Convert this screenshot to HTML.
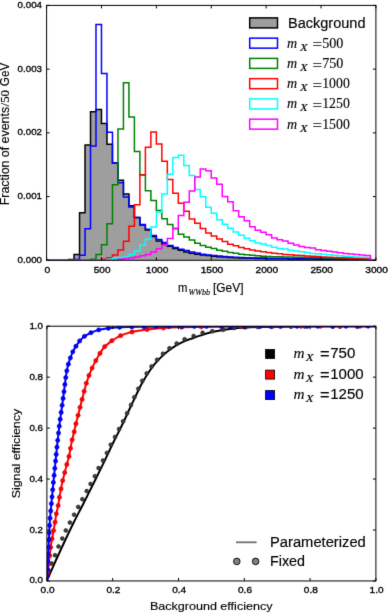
<!DOCTYPE html><html><head><meta charset="utf-8"><style>html,body{margin:0;padding:0;background:#fff;}svg{display:block;}</style></head><body>
<div style="width:388px;height:613px;will-change:transform;"><svg width="388" height="613" viewBox="0 0 388 613" font-family="Liberation Sans, sans-serif">
<style>text{stroke:#000;stroke-width:0.15px;paint-order:stroke;} text.sr{stroke-width:0.12px;} text.tk{stroke-width:0.35px;}</style>
<filter id="soft" x="0" y="0" width="388" height="613" filterUnits="userSpaceOnUse" color-interpolation-filters="sRGB"><feConvolveMatrix order="3" kernelMatrix="0.0081 0.0738 0.0081 0.0738 0.6724 0.0738 0.0081 0.0738 0.0081" edgeMode="duplicate"/></filter>
<g filter="url(#soft)">
<rect width="388" height="613" fill="#fff"/>
<clipPath id="tc"><rect x="46.6" y="5.4" width="329.3" height="254.9"/></clipPath>
<g clip-path="url(#tc)">
<path d="M46.6 260.5 L46.6 260.5 L52.09 260.5 L52.09 260.5 L57.58 260.5 L57.58 260.5 L63.06 260.5 L63.06 260.5 L68.55 260.5 L68.55 259.5 L74.04 259.5 L74.04 254.5 L79.53 254.5 L79.53 212.7 L85.02 212.7 L85.02 145 L90.51 145 L90.51 111.7 L95.99 111.7 L95.99 109.5 L101.48 109.5 L101.48 123.5 L106.97 123.5 L106.97 144.2 L112.46 144.2 L112.46 163 L117.95 163 L117.95 180.2 L123.44 180.2 L123.44 194 L128.92 194 L128.92 205.8 L134.41 205.8 L134.41 217.5 L139.9 217.5 L139.9 225 L145.39 225 L145.39 230 L150.88 230 L150.88 236.5 L156.37 236.5 L156.37 241 L161.85 241 L161.85 244 L167.34 244 L167.34 246.2 L172.83 246.2 L172.83 248.5 L178.32 248.5 L178.32 250.3 L183.81 250.3 L183.81 252 L189.3 252 L189.3 253.2 L194.78 253.2 L194.78 254.2 L200.27 254.2 L200.27 255 L205.76 255 L205.76 255.6 L211.25 255.6 L211.25 256.2 L216.74 256.2 L216.74 256.7 L222.23 256.7 L222.23 257.1 L227.71 257.1 L227.71 257.4 L233.2 257.4 L233.2 257.7 L238.69 257.7 L238.69 257.9 L244.18 257.9 L244.18 258.1 L249.67 258.1 L249.67 258.3 L255.16 258.3 L255.16 258.5 L260.64 258.5 L260.64 258.6 L266.13 258.6 L266.13 258.7 L271.62 258.7 L271.62 258.75 L277.11 258.75 L277.11 258.8 L282.6 258.8 L282.6 258.85 L288.09 258.85 L288.09 258.9 L293.57 258.9 L293.57 258.95 L299.06 258.95 L299.06 259 L304.55 259 L304.55 259.05 L310.04 259.05 L310.04 259.1 L315.53 259.1 L315.53 259.15 L321.02 259.15 L321.02 259.2 L326.5 259.2 L326.5 259.25 L331.99 259.25 L331.99 259.3 L337.48 259.3 L337.48 259.35 L342.97 259.35 L342.97 259.4 L348.46 259.4 L348.46 259.45 L353.95 259.45 L353.95 259.5 L359.43 259.5 L359.43 259.55 L364.92 259.55 L364.92 259.6 L370.41 259.6 L370.41 260.5 L375.9 260.5 L375.9 260.5 Z" fill="#9e9e9e" stroke="none"/>
<path d="M46.6 260.5 L46.6 260.5 L52.09 260.5 L52.09 260.5 L57.58 260.5 L57.58 260.5 L63.06 260.5 L63.06 260.5 L68.55 260.5 L68.55 259.5 L74.04 259.5 L74.04 254.5 L79.53 254.5 L79.53 212.7 L85.02 212.7 L85.02 145 L90.51 145 L90.51 111.7 L95.99 111.7 L95.99 109.5 L101.48 109.5 L101.48 123.5 L106.97 123.5 L106.97 144.2 L112.46 144.2 L112.46 163 L117.95 163 L117.95 180.2 L123.44 180.2 L123.44 194 L128.92 194 L128.92 205.8 L134.41 205.8 L134.41 217.5 L139.9 217.5 L139.9 225 L145.39 225 L145.39 230 L150.88 230 L150.88 236.5 L156.37 236.5 L156.37 241 L161.85 241 L161.85 244 L167.34 244 L167.34 246.2 L172.83 246.2 L172.83 248.5 L178.32 248.5 L178.32 250.3 L183.81 250.3 L183.81 252 L189.3 252 L189.3 253.2 L194.78 253.2 L194.78 254.2 L200.27 254.2 L200.27 255 L205.76 255 L205.76 255.6 L211.25 255.6 L211.25 256.2 L216.74 256.2 L216.74 256.7 L222.23 256.7 L222.23 257.1 L227.71 257.1 L227.71 257.4 L233.2 257.4 L233.2 257.7 L238.69 257.7 L238.69 257.9 L244.18 257.9 L244.18 258.1 L249.67 258.1 L249.67 258.3 L255.16 258.3 L255.16 258.5 L260.64 258.5 L260.64 258.6 L266.13 258.6 L266.13 258.7 L271.62 258.7 L271.62 258.75 L277.11 258.75 L277.11 258.8 L282.6 258.8 L282.6 258.85 L288.09 258.85 L288.09 258.9 L293.57 258.9 L293.57 258.95 L299.06 258.95 L299.06 259 L304.55 259 L304.55 259.05 L310.04 259.05 L310.04 259.1 L315.53 259.1 L315.53 259.15 L321.02 259.15 L321.02 259.2 L326.5 259.2 L326.5 259.25 L331.99 259.25 L331.99 259.3 L337.48 259.3 L337.48 259.35 L342.97 259.35 L342.97 259.4 L348.46 259.4 L348.46 259.45 L353.95 259.45 L353.95 259.5 L359.43 259.5 L359.43 259.55 L364.92 259.55 L364.92 259.6 L370.41 259.6 L370.41 260.5 L375.9 260.5 L375.9 260.5" fill="none" stroke="#000" stroke-width="1.5" stroke-linejoin="miter"/>
<path d="M46.6 260.5 L46.6 260.5 L52.09 260.5 L52.09 260.5 L57.58 260.5 L57.58 260.5 L63.06 260.5 L63.06 260.5 L68.55 260.5 L68.55 260.5 L74.04 260.5 L74.04 259.5 L79.53 259.5 L79.53 255.2 L85.02 255.2 L85.02 228.8 L90.51 228.8 L90.51 146 L95.99 146 L95.99 24.4 L101.48 24.4 L101.48 73.4 L106.97 73.4 L106.97 132.2 L112.46 132.2 L112.46 163 L117.95 163 L117.95 182.8 L123.44 182.8 L123.44 197 L128.92 197 L128.92 207 L134.41 207 L134.41 217.6 L139.9 217.6 L139.9 224.6 L145.39 224.6 L145.39 229.3 L150.88 229.3 L150.88 235.5 L156.37 235.5 L156.37 239.5 L161.85 239.5 L161.85 242.5 L167.34 242.5 L167.34 245.5 L172.83 245.5 L172.83 247.5 L178.32 247.5 L178.32 249.3 L183.81 249.3 L183.81 250.5 L189.3 250.5 L189.3 252 L194.78 252 L194.78 253.1 L200.27 253.1 L200.27 254.2 L205.76 254.2 L205.76 255 L211.25 255 L211.25 255.6 L216.74 255.6 L216.74 256.1 L222.23 256.1 L222.23 256.6 L227.71 256.6 L227.71 257 L233.2 257 L233.2 257.3 L238.69 257.3 L238.69 257.6 L244.18 257.6 L244.18 257.8 L249.67 257.8 L249.67 258 L255.16 258 L255.16 258.06 L260.64 258.06 L260.64 258.12 L266.13 258.12 L266.13 258.19 L271.62 258.19 L271.62 258.25 L277.11 258.25 L277.11 258.31 L282.6 258.31 L282.6 258.37 L288.09 258.37 L288.09 258.43 L293.57 258.43 L293.57 258.5 L299.06 258.5 L299.06 258.56 L304.55 258.56 L304.55 258.62 L310.04 258.62 L310.04 258.68 L315.53 258.68 L315.53 258.74 L321.02 258.74 L321.02 258.8 L326.5 258.8 L326.5 258.87 L331.99 258.87 L331.99 258.93 L337.48 258.93 L337.48 258.99 L342.97 258.99 L342.97 259.05 L348.46 259.05 L348.46 259.11 L353.95 259.11 L353.95 259.18 L359.43 259.18 L359.43 259.24 L364.92 259.24 L364.92 259.3 L370.41 259.3 L370.41 260.5 L375.9 260.5 L375.9 260.5" fill="none" stroke="#0000ff" stroke-width="1.5" stroke-linejoin="miter"/>
<path d="M46.6 260.5 L46.6 260.5 L52.09 260.5 L52.09 260.5 L57.58 260.5 L57.58 260.5 L63.06 260.5 L63.06 260.5 L68.55 260.5 L68.55 260.5 L74.04 260.5 L74.04 260.5 L79.53 260.5 L79.53 260.5 L85.02 260.5 L85.02 260.5 L90.51 260.5 L90.51 259.3 L95.99 259.3 L95.99 254.6 L101.48 254.6 L101.48 244.8 L106.97 244.8 L106.97 223.7 L112.46 223.7 L112.46 184.7 L117.95 184.7 L117.95 128.9 L123.44 128.9 L123.44 82.8 L128.92 82.8 L128.92 117 L134.41 117 L134.41 151.4 L139.9 151.4 L139.9 174.8 L145.39 174.8 L145.39 190.8 L150.88 190.8 L150.88 200.4 L156.37 200.4 L156.37 210.5 L161.85 210.5 L161.85 218.7 L167.34 218.7 L167.34 224.5 L172.83 224.5 L172.83 228.8 L178.32 228.8 L178.32 234.2 L183.81 234.2 L183.81 237 L189.3 237 L189.3 239.9 L194.78 239.9 L194.78 243.3 L200.27 243.3 L200.27 245.4 L205.76 245.4 L205.76 247.2 L211.25 247.2 L211.25 248.5 L216.74 248.5 L216.74 250.3 L222.23 250.3 L222.23 251.3 L227.71 251.3 L227.71 252.5 L233.2 252.5 L233.2 253.3 L238.69 253.3 L238.69 254.2 L244.18 254.2 L244.18 254.7 L249.67 254.7 L249.67 255.3 L255.16 255.3 L255.16 255.8 L260.64 255.8 L260.64 256.3 L266.13 256.3 L266.13 256.6 L271.62 256.6 L271.62 256.72 L277.11 256.72 L277.11 256.84 L282.6 256.84 L282.6 256.97 L288.09 256.97 L288.09 257.09 L293.57 257.09 L293.57 257.21 L299.06 257.21 L299.06 257.33 L304.55 257.33 L304.55 257.46 L310.04 257.46 L310.04 257.58 L315.53 257.58 L315.53 257.7 L321.02 257.7 L321.02 257.82 L326.5 257.82 L326.5 257.94 L331.99 257.94 L331.99 258.07 L337.48 258.07 L337.48 258.19 L342.97 258.19 L342.97 258.31 L348.46 258.31 L348.46 258.43 L353.95 258.43 L353.95 258.56 L359.43 258.56 L359.43 258.68 L364.92 258.68 L364.92 258.8 L370.41 258.8 L370.41 260.5 L375.9 260.5 L375.9 260.5" fill="none" stroke="#008000" stroke-width="1.5" stroke-linejoin="miter"/>
<path d="M46.6 260.5 L46.6 260.5 L52.09 260.5 L52.09 260.5 L57.58 260.5 L57.58 260.5 L63.06 260.5 L63.06 260.5 L68.55 260.5 L68.55 260.5 L74.04 260.5 L74.04 260.5 L79.53 260.5 L79.53 260.5 L85.02 260.5 L85.02 260.5 L90.51 260.5 L90.51 260.5 L95.99 260.5 L95.99 260.5 L101.48 260.5 L101.48 259.3 L106.97 259.3 L106.97 257.7 L112.46 257.7 L112.46 255 L117.95 255 L117.95 250 L123.44 250 L123.44 241.2 L128.92 241.2 L128.92 226.3 L134.41 226.3 L134.41 204.7 L139.9 204.7 L139.9 175 L145.39 175 L145.39 147.2 L150.88 147.2 L150.88 132.1 L156.37 132.1 L156.37 143.9 L161.85 143.9 L161.85 161.3 L167.34 161.3 L167.34 179.5 L172.83 179.5 L172.83 193.2 L178.32 193.2 L178.32 203.2 L183.81 203.2 L183.81 211.3 L189.3 211.3 L189.3 219.1 L194.78 219.1 L194.78 223.2 L200.27 223.2 L200.27 228.4 L205.76 228.4 L205.76 233 L211.25 233 L211.25 236 L216.74 236 L216.74 239.1 L222.23 239.1 L222.23 241.5 L227.71 241.5 L227.71 244.2 L233.2 244.2 L233.2 245.8 L238.69 245.8 L238.69 247.5 L244.18 247.5 L244.18 248.8 L249.67 248.8 L249.67 250 L255.16 250 L255.16 251.1 L260.64 251.1 L260.64 251.8 L266.13 251.8 L266.13 252.4 L271.62 252.4 L271.62 253.2 L277.11 253.2 L277.11 253.8 L282.6 253.8 L282.6 254.4 L288.09 254.4 L288.09 254.8 L293.57 254.8 L293.57 255.2 L299.06 255.2 L299.06 255.6 L304.55 255.6 L304.55 256 L310.04 256 L310.04 256.3 L315.53 256.3 L315.53 256.6 L321.02 256.6 L321.02 256.9 L326.5 256.9 L326.5 257.2 L331.99 257.2 L331.99 257.5 L337.48 257.5 L337.48 257.7 L342.97 257.7 L342.97 257.9 L348.46 257.9 L348.46 258.1 L353.95 258.1 L353.95 258.3 L359.43 258.3 L359.43 258.5 L364.92 258.5 L364.92 258.6 L370.41 258.6 L370.41 260.5 L375.9 260.5 L375.9 260.5" fill="none" stroke="#ff0000" stroke-width="1.5" stroke-linejoin="miter"/>
<path d="M46.6 260.5 L46.6 260.5 L52.09 260.5 L52.09 260.5 L57.58 260.5 L57.58 260.5 L63.06 260.5 L63.06 260.5 L68.55 260.5 L68.55 260.5 L74.04 260.5 L74.04 260.5 L79.53 260.5 L79.53 260.5 L85.02 260.5 L85.02 260.5 L90.51 260.5 L90.51 260.5 L95.99 260.5 L95.99 260.5 L101.48 260.5 L101.48 260.5 L106.97 260.5 L106.97 259.3 L112.46 259.3 L112.46 258 L117.95 258 L117.95 257.5 L123.44 257.5 L123.44 257 L128.92 257 L128.92 254.6 L134.41 254.6 L134.41 251 L139.9 251 L139.9 245.2 L145.39 245.2 L145.39 239.3 L150.88 239.3 L150.88 227 L156.37 227 L156.37 212.2 L161.85 212.2 L161.85 194 L167.34 194 L167.34 174.2 L172.83 174.2 L172.83 157.5 L178.32 157.5 L178.32 155.3 L183.81 155.3 L183.81 165.5 L189.3 165.5 L189.3 175.5 L194.78 175.5 L194.78 189.6 L200.27 189.6 L200.27 196.8 L205.76 196.8 L205.76 207.2 L211.25 207.2 L211.25 213.2 L216.74 213.2 L216.74 219.8 L222.23 219.8 L222.23 224.2 L227.71 224.2 L227.71 228.3 L233.2 228.3 L233.2 232 L238.69 232 L238.69 235.3 L244.18 235.3 L244.18 238.3 L249.67 238.3 L249.67 240.8 L255.16 240.8 L255.16 243 L260.64 243 L260.64 244 L266.13 244 L266.13 245.6 L271.62 245.6 L271.62 247.2 L277.11 247.2 L277.11 248.4 L282.6 248.4 L282.6 249 L288.09 249 L288.09 250.3 L293.57 250.3 L293.57 251 L299.06 251 L299.06 251.8 L304.55 251.8 L304.55 252.6 L310.04 252.6 L310.04 253.4 L315.53 253.4 L315.53 253.7 L321.02 253.7 L321.02 254.3 L326.5 254.3 L326.5 254.8 L331.99 254.8 L331.99 255.3 L337.48 255.3 L337.48 255.8 L342.97 255.8 L342.97 256.2 L348.46 256.2 L348.46 256.6 L353.95 256.6 L353.95 257 L359.43 257 L359.43 257.3 L364.92 257.3 L364.92 257.6 L370.41 257.6 L370.41 260.5 L375.9 260.5 L375.9 260.5" fill="none" stroke="#00ffff" stroke-width="1.5" stroke-linejoin="miter"/>
<path d="M46.6 260.5 L46.6 260.5 L52.09 260.5 L52.09 260.5 L57.58 260.5 L57.58 260.5 L63.06 260.5 L63.06 260.5 L68.55 260.5 L68.55 260.5 L74.04 260.5 L74.04 260.5 L79.53 260.5 L79.53 260.5 L85.02 260.5 L85.02 260.5 L90.51 260.5 L90.51 260.5 L95.99 260.5 L95.99 260.5 L101.48 260.5 L101.48 260.5 L106.97 260.5 L106.97 260.5 L112.46 260.5 L112.46 260.5 L117.95 260.5 L117.95 259.3 L123.44 259.3 L123.44 258.5 L128.92 258.5 L128.92 258 L134.41 258 L134.41 257 L139.9 257 L139.9 255.7 L145.39 255.7 L145.39 254.5 L150.88 254.5 L150.88 252 L156.37 252 L156.37 248.7 L161.85 248.7 L161.85 245 L167.34 245 L167.34 238.5 L172.83 238.5 L172.83 228.3 L178.32 228.3 L178.32 215.5 L183.81 215.5 L183.81 202.2 L189.3 202.2 L189.3 190.9 L194.78 190.9 L194.78 176.9 L200.27 176.9 L200.27 169 L205.76 169 L205.76 170.7 L211.25 170.7 L211.25 178 L216.74 178 L216.74 184.3 L222.23 184.3 L222.23 196.5 L227.71 196.5 L227.71 201.7 L233.2 201.7 L233.2 210.8 L238.69 210.8 L238.69 216.7 L244.18 216.7 L244.18 220.8 L249.67 220.8 L249.67 226.7 L255.16 226.7 L255.16 230.2 L260.64 230.2 L260.64 232.2 L266.13 232.2 L266.13 234.8 L271.62 234.8 L271.62 237.9 L277.11 237.9 L277.11 239.8 L282.6 239.8 L282.6 241 L288.09 241 L288.09 243.3 L293.57 243.3 L293.57 244.9 L299.06 244.9 L299.06 246.4 L304.55 246.4 L304.55 247.6 L310.04 247.6 L310.04 248 L315.53 248 L315.53 249.8 L321.02 249.8 L321.02 250.5 L326.5 250.5 L326.5 251.2 L331.99 251.2 L331.99 252 L337.48 252 L337.48 252.8 L342.97 252.8 L342.97 253.4 L348.46 253.4 L348.46 254 L353.95 254 L353.95 254.6 L359.43 254.6 L359.43 255.1 L364.92 255.1 L364.92 255.5 L370.41 255.5 L370.41 260.5 L375.9 260.5 L375.9 260.5" fill="none" stroke="#ff00ff" stroke-width="1.5" stroke-linejoin="miter"/>
</g>
<rect x="46.6" y="5.4" width="329.3" height="254.9" fill="none" stroke="#000" stroke-width="1"/>
<path d="M46.6 260.3 v-3 M46.6 5.4 v3 M101.48 260.3 v-3 M101.48 5.4 v3 M156.37 260.3 v-3 M156.37 5.4 v3 M211.25 260.3 v-3 M211.25 5.4 v3 M266.13 260.3 v-3 M266.13 5.4 v3 M321.02 260.3 v-3 M321.02 5.4 v3 M375.9 260.3 v-3 M375.9 5.4 v3 M46.6 260.3 h3 M375.9 260.3 h-3 M46.6 196.58 h3 M375.9 196.58 h-3 M46.6 132.85 h3 M375.9 132.85 h-3 M46.6 69.12 h3 M375.9 69.12 h-3 M46.6 5.4 h3 M375.9 5.4 h-3" stroke="#000" stroke-width="1" fill="none"/>
<text x="42" y="262.9" text-anchor="end" font-size="9.8" fill="#000" class="tk" textLength="24.4" lengthAdjust="spacingAndGlyphs">0.000</text>
<text x="42" y="199.18" text-anchor="end" font-size="9.8" fill="#000" class="tk" textLength="24.4" lengthAdjust="spacingAndGlyphs">0.001</text>
<text x="42" y="135.45" text-anchor="end" font-size="9.8" fill="#000" class="tk" textLength="24.4" lengthAdjust="spacingAndGlyphs">0.002</text>
<text x="42" y="71.72" text-anchor="end" font-size="9.8" fill="#000" class="tk" textLength="24.4" lengthAdjust="spacingAndGlyphs">0.003</text>
<text x="42" y="8" text-anchor="end" font-size="9.8" fill="#000" class="tk" textLength="24.4" lengthAdjust="spacingAndGlyphs">0.004</text>
<text x="47.3" y="273" text-anchor="middle" font-size="9.8" fill="#000" class="tk" textLength="5.8" lengthAdjust="spacingAndGlyphs">0</text>
<text x="102.18" y="273" text-anchor="middle" font-size="9.8" fill="#000" class="tk" textLength="16.8" lengthAdjust="spacingAndGlyphs">500</text>
<text x="157.07" y="273" text-anchor="middle" font-size="9.8" fill="#000" class="tk" textLength="22.6" lengthAdjust="spacingAndGlyphs">1000</text>
<text x="211.95" y="273" text-anchor="middle" font-size="9.8" fill="#000" class="tk" textLength="22.6" lengthAdjust="spacingAndGlyphs">1500</text>
<text x="266.83" y="273" text-anchor="middle" font-size="9.8" fill="#000" class="tk" textLength="22.6" lengthAdjust="spacingAndGlyphs">2000</text>
<text x="321.72" y="273" text-anchor="middle" font-size="9.8" fill="#000" class="tk" textLength="22.6" lengthAdjust="spacingAndGlyphs">2500</text>
<text x="376.6" y="273" text-anchor="middle" font-size="9.8" fill="#000" class="tk" textLength="22.6" lengthAdjust="spacingAndGlyphs">3000</text>
<g transform="translate(9.2 0) rotate(-90)" font-size="12.3">
<text x="-205.3" y="0" textLength="98.4" lengthAdjust="spacingAndGlyphs">Fraction of events</text>
<text x="-106.4" y="0" font-family="Liberation Serif" font-size="11.5" textLength="16.4" lengthAdjust="spacingAndGlyphs">/50</text>
<text x="-86.2" y="0" textLength="23.4" lengthAdjust="spacingAndGlyphs">GeV</text>
</g>
<text x="178" y="292.2" font-size="13" textLength="9.4" lengthAdjust="spacingAndGlyphs">m</text>
<text x="188.4" y="295.2" font-size="7.8" font-family="Liberation Serif" font-style="italic" class="sr" textLength="21.6" lengthAdjust="spacingAndGlyphs">WWbb</text>
<text x="213" y="292.4" font-size="12.2" textLength="30.5" lengthAdjust="spacingAndGlyphs">[GeV]</text>
<rect x="249.7" y="17.9" width="27.8" height="10" fill="#9e9e9e" stroke="#000" stroke-width="1.5"/>
<text x="288" y="28" font-size="14" textLength="77.5" lengthAdjust="spacingAndGlyphs">Background</text>
<rect x="249.7" y="38.15" width="27.8" height="10" fill="none" stroke="#0000ff" stroke-width="1.5"/>
<text y="47.65" font-family="Liberation Serif" font-size="14" class="sr"><tspan x="287" font-style="italic">m</tspan><tspan x="300" dy="2.9" font-size="9.6" font-style="italic" textLength="7.6" lengthAdjust="spacingAndGlyphs">X</tspan><tspan x="312.6" dy="-1.1" textLength="9.6" lengthAdjust="spacingAndGlyphs">=</tspan><tspan x="322.2" dy="-1.8" textLength="21.2" lengthAdjust="spacingAndGlyphs">500</tspan></text>
<rect x="249.7" y="58.4" width="27.8" height="10" fill="none" stroke="#008000" stroke-width="1.5"/>
<text y="67.9" font-family="Liberation Serif" font-size="14" class="sr"><tspan x="287" font-style="italic">m</tspan><tspan x="300" dy="2.9" font-size="9.6" font-style="italic" textLength="7.6" lengthAdjust="spacingAndGlyphs">X</tspan><tspan x="312.6" dy="-1.1" textLength="9.6" lengthAdjust="spacingAndGlyphs">=</tspan><tspan x="322.2" dy="-1.8" textLength="21.2" lengthAdjust="spacingAndGlyphs">750</tspan></text>
<rect x="249.7" y="78.65" width="27.8" height="10" fill="none" stroke="#ff0000" stroke-width="1.5"/>
<text y="88.15" font-family="Liberation Serif" font-size="14" class="sr"><tspan x="287" font-style="italic">m</tspan><tspan x="300" dy="2.9" font-size="9.6" font-style="italic" textLength="7.6" lengthAdjust="spacingAndGlyphs">X</tspan><tspan x="312.6" dy="-1.1" textLength="9.6" lengthAdjust="spacingAndGlyphs">=</tspan><tspan x="322.2" dy="-1.8" textLength="27.6" lengthAdjust="spacingAndGlyphs">1000</tspan></text>
<rect x="249.7" y="98.9" width="27.8" height="10" fill="none" stroke="#00ffff" stroke-width="1.5"/>
<text y="108.4" font-family="Liberation Serif" font-size="14" class="sr"><tspan x="287" font-style="italic">m</tspan><tspan x="300" dy="2.9" font-size="9.6" font-style="italic" textLength="7.6" lengthAdjust="spacingAndGlyphs">X</tspan><tspan x="312.6" dy="-1.1" textLength="9.6" lengthAdjust="spacingAndGlyphs">=</tspan><tspan x="322.2" dy="-1.8" textLength="27.6" lengthAdjust="spacingAndGlyphs">1250</tspan></text>
<rect x="249.7" y="119.15" width="27.8" height="10" fill="none" stroke="#ff00ff" stroke-width="1.5"/>
<text y="128.65" font-family="Liberation Serif" font-size="14" class="sr"><tspan x="287" font-style="italic">m</tspan><tspan x="300" dy="2.9" font-size="9.6" font-style="italic" textLength="7.6" lengthAdjust="spacingAndGlyphs">X</tspan><tspan x="312.6" dy="-1.1" textLength="9.6" lengthAdjust="spacingAndGlyphs">=</tspan><tspan x="322.2" dy="-1.8" textLength="27.6" lengthAdjust="spacingAndGlyphs">1500</tspan></text>
<clipPath id="bc"><rect x="46.9" y="326.2" width="329" height="254.75"/></clipPath>
<g clip-path="url(#bc)">
<g fill="none" stroke-width="2" stroke-linejoin="round" stroke-linecap="butt">
<path d="M46.9 580.6 C48.38 577.25 52.82 567.1 55.8 560.5 C58.78 553.9 61.82 547.33 64.8 541 C67.78 534.67 70.63 528.67 73.7 522.5 C76.77 516.33 79.62 511.08 83.2 504 C86.78 496.92 91.65 487.17 95.2 480 C98.75 472.83 101.48 467.25 104.5 461 C107.52 454.75 110.43 448.37 113.3 442.5 C116.17 436.63 118.95 431.47 121.7 425.8 C124.45 420.13 127.25 413.92 129.8 408.5 C132.35 403.08 135.08 397.28 137 393.3 C138.92 389.32 139.52 387.87 141.3 384.6 C143.08 381.33 145.55 377.03 147.7 373.7 C149.85 370.37 152.05 367.28 154.2 364.6 C156.35 361.92 158.45 359.73 160.6 357.6 C162.75 355.47 164.95 353.53 167.1 351.8 C169.25 350.07 171.35 348.6 173.5 347.2 C175.65 345.8 177.85 344.53 180 343.4 C182.15 342.27 184.63 341.15 186.4 340.4 C188.17 339.65 188.18 339.73 190.6 338.9 C193.02 338.07 197.47 336.5 200.9 335.4 C204.33 334.3 207.77 333.17 211.2 332.3 C214.63 331.43 218.05 330.78 221.5 330.2 C224.95 329.62 228.45 329.2 231.9 328.8 C235.35 328.4 237.52 328.1 242.2 327.8 C246.88 327.5 250.37 327.22 260 327 C269.63 326.78 280.68 326.63 300 326.5 C319.32 326.37 363.25 326.25 375.9 326.2" stroke="#000"/>
</g>
<g fill="#3c3c3c" stroke="#1a1a1a" stroke-width="0.5">
<circle cx="48.6" cy="570.5" r="2.0"/>
<circle cx="51.6" cy="563.4" r="2.0"/>
<circle cx="55" cy="555.2" r="2.0"/>
<circle cx="58.5" cy="546.5" r="2.0"/>
<circle cx="62.3" cy="538.5" r="2.0"/>
<circle cx="65.8" cy="530.4" r="2.0"/>
<circle cx="69.9" cy="522.6" r="2.0"/>
<circle cx="74.1" cy="514.7" r="2.0"/>
<circle cx="78.2" cy="506.9" r="2.0"/>
<circle cx="82.4" cy="499.2" r="2.0"/>
<circle cx="86.7" cy="491.1" r="2.0"/>
<circle cx="90.6" cy="483.9" r="2.0"/>
<circle cx="94.9" cy="476.2" r="2.0"/>
<circle cx="98.6" cy="468.1" r="2.0"/>
<circle cx="103" cy="460.5" r="2.0"/>
<circle cx="106.9" cy="452.9" r="2.0"/>
<circle cx="110.8" cy="444.8" r="2.0"/>
<circle cx="115" cy="437" r="2.0"/>
<circle cx="119" cy="429.1" r="2.0"/>
<circle cx="123.1" cy="421.3" r="2.0"/>
<circle cx="127.1" cy="413.2" r="2.0"/>
<circle cx="131" cy="405" r="2.0"/>
<circle cx="134.3" cy="397.3" r="2.0"/>
<circle cx="138.3" cy="388.8" r="2.0"/>
<circle cx="142.3" cy="380.8" r="2.0"/>
<circle cx="146.7" cy="373.4" r="2.0"/>
<circle cx="151.6" cy="366.4" r="2.0"/>
<circle cx="157.1" cy="359.8" r="2.0"/>
<circle cx="163" cy="353.7" r="2.0"/>
<circle cx="169.5" cy="348.2" r="2.0"/>
<circle cx="176.7" cy="343.5" r="2.0"/>
<circle cx="184.6" cy="339.3" r="2.0"/>
<circle cx="193.6" cy="336" r="2.0"/>
<circle cx="202.6" cy="332.8" r="2.0"/>
<circle cx="212.3" cy="331.2" r="2.0"/>
<circle cx="223.2" cy="329.8" r="2.0"/>
<circle cx="233.9" cy="327.9" r="2.0"/>
<circle cx="245.3" cy="327.2" r="2.0"/>
<circle cx="258" cy="327" r="2.0"/>
<circle cx="272" cy="326.8" r="2.0"/>
<circle cx="291" cy="326.7" r="2.0"/>
<circle cx="305" cy="326.6" r="2.0"/>
<circle cx="333" cy="326.6" r="2.0"/>
<circle cx="340" cy="326.6" r="2.0"/>
<circle cx="357" cy="326.6" r="2.0"/>
</g>
<path d="M46.9 580.6 C47.02 579.5 47.37 576.43 47.6 574 C47.83 571.57 47.93 569.17 48.3 566 C48.67 562.83 49.32 558.77 49.8 555 C50.28 551.23 50.65 547.02 51.2 543.4 C51.75 539.78 52.47 536.78 53.1 533.3 C53.73 529.82 54.48 525.65 55 522.5 C55.52 519.35 55.7 517.08 56.2 514.4 C56.7 511.72 57.47 509.22 58 506.4 C58.53 503.58 58.92 500.32 59.4 497.5 C59.88 494.68 60.37 492.25 60.9 489.5 C61.43 486.75 61.98 483.75 62.6 481 C63.22 478.25 63.9 475.75 64.6 473 C65.3 470.25 66.07 467.27 66.8 464.5 C67.53 461.73 68.15 460.32 69 456.4 C69.85 452.48 71.05 445.03 71.9 441 C72.75 436.97 73.47 434.9 74.1 432.2 C74.73 429.5 74.92 428.08 75.7 424.8 C76.48 421.52 77.77 416.62 78.8 412.5 C79.83 408.38 80.75 404.62 81.9 400.1 C83.05 395.58 84.6 389.27 85.7 385.4 C86.8 381.53 87.52 379.6 88.5 376.9 C89.48 374.2 90.45 371.78 91.6 369.2 C92.75 366.62 94.12 363.85 95.4 361.4 C96.68 358.95 97.88 356.82 99.3 354.5 C100.72 352.18 102.1 349.57 103.9 347.5 C105.7 345.43 107.72 343.88 110.1 342.1 C112.48 340.32 114.78 338.43 118.2 336.8 C121.62 335.17 125.78 333.5 130.6 332.3 C135.42 331.1 141.25 330.35 147.1 329.6 C152.95 328.85 159.85 328.2 165.7 327.8 C171.55 327.4 173.15 327.4 182.2 327.2 C191.25 327 203.7 326.75 220 326.6 C236.3 326.45 254.02 326.37 280 326.3 C305.98 326.23 359.92 326.22 375.9 326.2" stroke="#ff0000" stroke-width="2" fill="none"/>
<g fill="#ff0000" stroke="#cc0000" stroke-width="0.5">
<circle cx="47.7" cy="572.9" r="2.15"/>
<circle cx="48.52" cy="564.26" r="2.15"/>
<circle cx="49.69" cy="555.85" r="2.15"/>
<circle cx="50.68" cy="547.37" r="2.15"/>
<circle cx="52.02" cy="538.79" r="2.15"/>
<circle cx="53.59" cy="530.59" r="2.15"/>
<circle cx="55.04" cy="522.27" r="2.15"/>
<circle cx="56.32" cy="513.8" r="2.15"/>
<circle cx="58.16" cy="505.54" r="2.15"/>
<circle cx="59.44" cy="497.29" r="2.15"/>
<circle cx="61.02" cy="488.88" r="2.15"/>
<circle cx="62.69" cy="480.59" r="2.15"/>
<circle cx="64.71" cy="472.59" r="2.15"/>
<circle cx="66.8" cy="464.5" r="2.15"/>
<circle cx="69" cy="456.4" r="2.15"/>
<circle cx="70.53" cy="448.32" r="2.15"/>
<circle cx="72.15" cy="439.85" r="2.15"/>
<circle cx="74.19" cy="431.8" r="2.15"/>
<circle cx="75.95" cy="423.77" r="2.15"/>
<circle cx="78.07" cy="415.37" r="2.15"/>
<circle cx="80.08" cy="407.36" r="2.15"/>
<circle cx="82.08" cy="399.41" r="2.15"/>
<circle cx="84.12" cy="391.33" r="2.15"/>
<circle cx="86.32" cy="383.29" r="2.15"/>
<circle cx="89.02" cy="375.51" r="2.15"/>
<circle cx="92.13" cy="368.03" r="2.15"/>
<circle cx="95.78" cy="360.67" r="2.15"/>
<circle cx="99.94" cy="353.44" r="2.15"/>
<circle cx="104.73" cy="346.6" r="2.15"/>
<circle cx="111.89" cy="340.75" r="2.15"/>
<circle cx="120.62" cy="335.7" r="2.15"/>
<circle cx="132.07" cy="331.95" r="2.15"/>
<circle cx="147.1" cy="329.6" r="2.15"/>
<circle cx="163.46" cy="327.96" r="2.15"/>
<circle cx="181.54" cy="327.21" r="2.15"/>
<circle cx="201.27" cy="326.83" r="2.15"/>
<circle cx="221.23" cy="326.59" r="2.15"/>
<circle cx="240.68" cy="326.45" r="2.15"/>
<circle cx="260.3" cy="326.36" r="2.15"/>
<circle cx="280" cy="326.3" r="2.15"/>
<circle cx="301.03" cy="326.26" r="2.15"/>
<circle cx="320.38" cy="326.24" r="2.15"/>
<circle cx="340.02" cy="326.23" r="2.15"/>
<circle cx="360.1" cy="326.21" r="2.15"/>
</g>
<path d="M46.9 580.6 C46.97 579.17 47.1 576.27 47.3 572 C47.5 567.73 47.78 561.33 48.1 555 C48.42 548.67 48.9 539.83 49.2 534 C49.5 528.17 49.67 523.63 49.9 520 C50.13 516.37 50.23 516.18 50.6 512.2 C50.97 508.22 51.62 501.23 52.1 496.1 C52.58 490.97 53.02 486.3 53.5 481.4 C53.98 476.5 54.43 472.33 55 466.7 C55.57 461.07 56.35 452.88 56.9 447.6 C57.45 442.32 57.82 439.27 58.3 435 C58.78 430.73 59.27 426.17 59.8 422 C60.33 417.83 60.93 414.08 61.5 410 C62.07 405.92 62.63 401.75 63.2 397.5 C63.77 393.25 64.35 388.67 64.9 384.5 C65.45 380.33 65.92 375.92 66.5 372.5 C67.08 369.08 67.7 366.58 68.4 364 C69.1 361.42 69.93 359.1 70.7 357 C71.47 354.9 72.1 353.23 73 351.4 C73.9 349.57 74.93 347.8 76.1 346 C77.27 344.2 78.58 342.23 80 340.6 C81.42 338.97 82.8 337.5 84.6 336.2 C86.4 334.9 88.48 333.83 90.8 332.8 C93.12 331.77 95.53 330.77 98.5 330 C101.47 329.23 105.68 328.63 108.6 328.2 C111.52 327.77 110.77 327.63 116 327.4 C121.23 327.17 126 326.97 140 326.8 C154 326.63 160.68 326.5 200 326.4 C239.32 326.3 346.58 326.23 375.9 326.2" stroke="#0000ff" stroke-width="2" fill="none"/>
<g fill="#0000ff" stroke="#0000cc" stroke-width="0.5">
<circle cx="47.09" cy="576.46" r="2.15"/>
<circle cx="47.43" cy="569.2" r="2.15"/>
<circle cx="47.78" cy="561.58" r="2.15"/>
<circle cx="48.12" cy="554.52" r="2.15"/>
<circle cx="48.51" cy="547.11" r="2.15"/>
<circle cx="48.89" cy="539.91" r="2.15"/>
<circle cx="49.27" cy="532.71" r="2.15"/>
<circle cx="49.61" cy="525.49" r="2.15"/>
<circle cx="50.03" cy="518.18" r="2.15"/>
<circle cx="50.72" cy="510.92" r="2.15"/>
<circle cx="51.39" cy="503.71" r="2.15"/>
<circle cx="52.03" cy="496.88" r="2.15"/>
<circle cx="52.7" cy="489.75" r="2.15"/>
<circle cx="53.39" cy="482.5" r="2.15"/>
<circle cx="54.11" cy="475.38" r="2.15"/>
<circle cx="54.83" cy="468.35" r="2.15"/>
<circle cx="55.56" cy="461.09" r="2.15"/>
<circle cx="56.21" cy="454.48" r="2.15"/>
<circle cx="56.94" cy="447.21" r="2.15"/>
<circle cx="57.69" cy="440.34" r="2.15"/>
<circle cx="58.52" cy="433.06" r="2.15"/>
<circle cx="59.29" cy="426.17" r="2.15"/>
<circle cx="60.17" cy="419.24" r="2.15"/>
<circle cx="61.16" cy="412.42" r="2.15"/>
<circle cx="62.14" cy="405.37" r="2.15"/>
<circle cx="63.07" cy="398.45" r="2.15"/>
<circle cx="63.97" cy="391.63" r="2.15"/>
<circle cx="64.9" cy="384.5" r="2.15"/>
<circle cx="65.77" cy="377.61" r="2.15"/>
<circle cx="66.81" cy="370.79" r="2.15"/>
<circle cx="68.35" cy="364.19" r="2.15"/>
<circle cx="70.35" cy="357.96" r="2.15"/>
<circle cx="72.8" cy="351.81" r="2.15"/>
<circle cx="75.93" cy="346.27" r="2.15"/>
<circle cx="79.68" cy="340.97" r="2.15"/>
<circle cx="84.47" cy="336.3" r="2.15"/>
<circle cx="90.97" cy="332.72" r="2.15"/>
<circle cx="98.72" cy="329.94" r="2.15"/>
<circle cx="108.38" cy="328.23" r="2.15"/>
<circle cx="119.57" cy="327.25" r="2.15"/>
<circle cx="131.84" cy="326.92" r="2.15"/>
<circle cx="144.02" cy="326.75" r="2.15"/>
<circle cx="155.84" cy="326.62" r="2.15"/>
<circle cx="169" cy="326.52" r="2.15"/>
<circle cx="182.14" cy="326.46" r="2.15"/>
<circle cx="194.34" cy="326.42" r="2.15"/>
<circle cx="206.39" cy="326.39" r="2.15"/>
<circle cx="221.79" cy="326.36" r="2.15"/>
<circle cx="230.58" cy="326.34" r="2.15"/>
<circle cx="244.82" cy="326.33" r="2.15"/>
<circle cx="260" cy="326.31" r="2.15"/>
<circle cx="270.46" cy="326.3" r="2.15"/>
<circle cx="281.06" cy="326.29" r="2.15"/>
<circle cx="297" cy="326.27" r="2.15"/>
<circle cx="307.48" cy="326.26" r="2.15"/>
<circle cx="317.73" cy="326.25" r="2.15"/>
<circle cx="332.41" cy="326.24" r="2.15"/>
<circle cx="345.93" cy="326.23" r="2.15"/>
<circle cx="357.94" cy="326.22" r="2.15"/>
<circle cx="368.05" cy="326.21" r="2.15"/>
</g>
</g>
<rect x="46.9" y="326.2" width="329" height="254.75" fill="none" stroke="#000" stroke-width="1"/>
<path d="M46.9 580.95 v-3 M46.9 326.2 v3 M46.9 580.95 h3 M375.9 580.95 h-3 M112.7 580.95 v-3 M112.7 326.2 v3 M46.9 530 h3 M375.9 530 h-3 M178.5 580.95 v-3 M178.5 326.2 v3 M46.9 479.05 h3 M375.9 479.05 h-3 M244.3 580.95 v-3 M244.3 326.2 v3 M46.9 428.1 h3 M375.9 428.1 h-3 M310.1 580.95 v-3 M310.1 326.2 v3 M46.9 377.15 h3 M375.9 377.15 h-3 M375.9 580.95 v-3 M375.9 326.2 v3 M46.9 326.2 h3 M375.9 326.2 h-3" stroke="#000" stroke-width="1" fill="none"/>
<text x="43" y="583.45" text-anchor="end" font-size="9.8" fill="#000" class="tk" textLength="13.6" lengthAdjust="spacingAndGlyphs">0.0</text>
<text x="47.6" y="593.4" text-anchor="middle" font-size="9.8" fill="#000" class="tk" textLength="14" lengthAdjust="spacingAndGlyphs">0.0</text>
<text x="43" y="532.5" text-anchor="end" font-size="9.8" fill="#000" class="tk" textLength="13.6" lengthAdjust="spacingAndGlyphs">0.2</text>
<text x="113.4" y="593.4" text-anchor="middle" font-size="9.8" fill="#000" class="tk" textLength="14" lengthAdjust="spacingAndGlyphs">0.2</text>
<text x="43" y="481.55" text-anchor="end" font-size="9.8" fill="#000" class="tk" textLength="13.6" lengthAdjust="spacingAndGlyphs">0.4</text>
<text x="179.2" y="593.4" text-anchor="middle" font-size="9.8" fill="#000" class="tk" textLength="14" lengthAdjust="spacingAndGlyphs">0.4</text>
<text x="43" y="430.6" text-anchor="end" font-size="9.8" fill="#000" class="tk" textLength="13.6" lengthAdjust="spacingAndGlyphs">0.6</text>
<text x="245" y="593.4" text-anchor="middle" font-size="9.8" fill="#000" class="tk" textLength="14" lengthAdjust="spacingAndGlyphs">0.6</text>
<text x="43" y="379.65" text-anchor="end" font-size="9.8" fill="#000" class="tk" textLength="13.6" lengthAdjust="spacingAndGlyphs">0.8</text>
<text x="310.8" y="593.4" text-anchor="middle" font-size="9.8" fill="#000" class="tk" textLength="14" lengthAdjust="spacingAndGlyphs">0.8</text>
<text x="43" y="328.7" text-anchor="end" font-size="9.8" fill="#000" class="tk" textLength="13.6" lengthAdjust="spacingAndGlyphs">1.0</text>
<text x="376.6" y="593.4" text-anchor="middle" font-size="9.8" fill="#000" class="tk" textLength="14" lengthAdjust="spacingAndGlyphs">1.0</text>
<text x="211.2" y="609.7" text-anchor="middle" font-size="11.8" textLength="122.5" lengthAdjust="spacingAndGlyphs">Background efficiency</text>
<text transform="translate(19.8 453.6) rotate(-90)" text-anchor="middle" font-size="11.8" textLength="89.5" lengthAdjust="spacingAndGlyphs">Signal efficiency</text>
<rect x="265.6" y="349.5" width="9" height="9" fill="#000000" stroke="#000" stroke-width="0.8"/>
<text y="358" font-size="14" font-family="Liberation Serif" font-style="italic" class="sr"><tspan x="293.5" textLength="11" lengthAdjust="spacingAndGlyphs">m</tspan><tspan x="305.8" dy="3.0" font-size="10" textLength="7.8" lengthAdjust="spacingAndGlyphs">X</tspan></text>
<text y="359.2" font-size="14"><tspan x="320" textLength="9.6" lengthAdjust="spacingAndGlyphs">=</tspan><tspan x="330.2" dy="-1.2" textLength="25.2" lengthAdjust="spacingAndGlyphs">750</tspan></text>
<rect x="265.6" y="370.1" width="9" height="9" fill="#ff0000" stroke="#000" stroke-width="0.8"/>
<text y="378.6" font-size="14" font-family="Liberation Serif" font-style="italic" class="sr"><tspan x="293.5" textLength="11" lengthAdjust="spacingAndGlyphs">m</tspan><tspan x="305.8" dy="3.0" font-size="10" textLength="7.8" lengthAdjust="spacingAndGlyphs">X</tspan></text>
<text y="379.8" font-size="14"><tspan x="320" textLength="9.6" lengthAdjust="spacingAndGlyphs">=</tspan><tspan x="330.2" dy="-1.2" textLength="33.4" lengthAdjust="spacingAndGlyphs">1000</tspan></text>
<rect x="265.6" y="390.6" width="9" height="9" fill="#0000ff" stroke="#000" stroke-width="0.8"/>
<text y="399.1" font-size="14" font-family="Liberation Serif" font-style="italic" class="sr"><tspan x="293.5" textLength="11" lengthAdjust="spacingAndGlyphs">m</tspan><tspan x="305.8" dy="3.0" font-size="10" textLength="7.8" lengthAdjust="spacingAndGlyphs">X</tspan></text>
<text y="400.3" font-size="14"><tspan x="320" textLength="9.6" lengthAdjust="spacingAndGlyphs">=</tspan><tspan x="330.2" dy="-1.2" textLength="33.4" lengthAdjust="spacingAndGlyphs">1250</tspan></text>
<line x1="236" y1="542.3" x2="256.6" y2="542.3" stroke="#6e6e6e" stroke-width="1.8"/>
<circle cx="236.8" cy="561.4" r="3.3" fill="#808080" stroke="#111" stroke-width="1"/>
<circle cx="255.6" cy="561.4" r="3.3" fill="#808080" stroke="#111" stroke-width="1"/>
<text x="270" y="547.3" font-size="14" textLength="95.8" lengthAdjust="spacingAndGlyphs">Parameterized</text>
<text x="270" y="566.2" font-size="14" textLength="35" lengthAdjust="spacingAndGlyphs">Fixed</text>
</g></svg></div></body></html>
